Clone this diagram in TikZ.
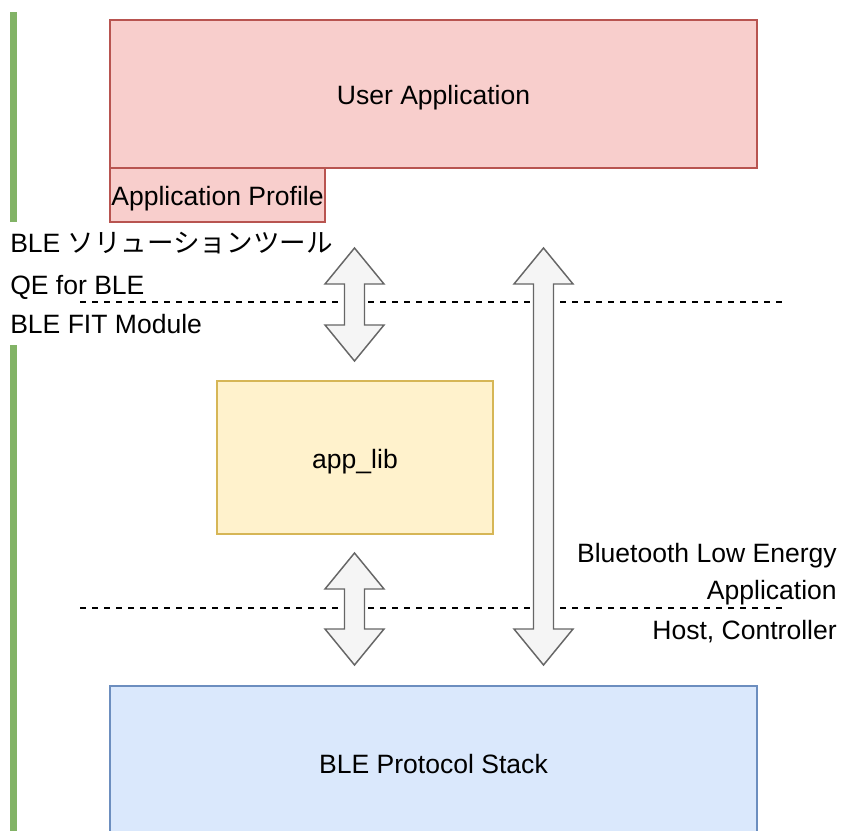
\documentclass[tikz,border=0pt]{standalone}
\usepackage{fontspec}
\setmainfont{Liberation Sans}
\newfontfamily\jpfont{Noto Sans CJK JP}
\usetikzlibrary{positioning}

\definecolor{redfill}{HTML}{F8CECC}
\definecolor{redline}{HTML}{B85450}
\definecolor{yellowfill}{HTML}{FFF2CC}
\definecolor{yellowline}{HTML}{D6B656}
\definecolor{bluefill}{HTML}{DAE8FC}
\definecolor{blueline}{HTML}{6C8EBF}
\definecolor{greenbar}{HTML}{82B366}
\definecolor{arrowfill}{HTML}{F5F5F5}
\definecolor{arrowline}{HTML}{666666}

% block arrow: centre x, top tip y, bottom tip y (up and down heads)
\newcommand{\blockarrow}[3]{
    \draw[arrowline, fill=arrowfill, line width=1.1pt, line join=miter]
        (#1,#2) -- (#1+29.5,#2+36) -- (#1+10,#2+36) -- (#1+10,#3-36)
        -- (#1+29.5,#3-36) -- (#1,#3) -- (#1-29.5,#3-36) -- (#1-10,#3-36)
        -- (#1-10,#2+36) -- (#1-29.5,#2+36) -- cycle;
}

\tikzset{
    layerbox/.style = {draw, line width=0.9pt, inner sep=0pt, text height=16pt, text depth=0pt,
                       font=\fontsize{19.9}{24}\selectfont},
    sidetext/.style = {inner sep=0pt, font=\fontsize{19.9}{24}\selectfont},
    layerline/.style = {black, line width=0.9pt, dash pattern=on 4.5pt off 4.5pt}
}

\begin{document}
\begin{tikzpicture}[x=0.75pt, y=-0.75pt]

            \clip (0,0) rectangle (842,831);
            \fill[white] (0,0) rectangle (842,831);

            % green bars on the left
            \fill[greenbar] (10,12) rectangle (17,222);
            \fill[greenbar] (10,345) rectangle (17,831);

            % dashed layer lines
            \draw[layerline] (80,302) -- (782,302);
            \draw[layerline] (80,608) -- (782,608);

            \path   (433.5,94) node (userapp) [layerbox, fill=redfill, draw=redline, minimum width=485.25pt, minimum height=111pt] {User Application}
                    (217.5,195) node (profile) [layerbox, fill=redfill, draw=redline, minimum width=161.25pt, minimum height=40.5pt] {Application Profile}
                    (355,457.5) node (applib) [layerbox, fill=yellowfill, draw=yellowline, minimum width=207pt, minimum height=114.75pt] {app\_lib}
                    (433.5,763) node (stack) [layerbox, fill=bluefill, draw=blueline, minimum width=485.25pt, minimum height=115.5pt] {BLE Protocol Stack};

            \blockarrow{354.5}{248}{361}
            \blockarrow{354.5}{553}{665}
            \blockarrow{543.5}{248}{665}

            \node (solution) [sidetext, anchor=west] at (10,243) {BLE \jpfont ソリューションツール};
            \node (qe) [sidetext, anchor=west] at (10,287) {QE for BLE};
            \node (fit) [sidetext, anchor=west] at (10,324) {BLE FIT Module};

            \node (ble) [sidetext, anchor=east] at (837,556) {Bluetooth Low Energy};
            \node (application) [sidetext, anchor=east] at (837,593) {Application};
            \node (host) [sidetext, anchor=east] at (837,632) {Host, Controller};

        \end{tikzpicture}
\end{document}
